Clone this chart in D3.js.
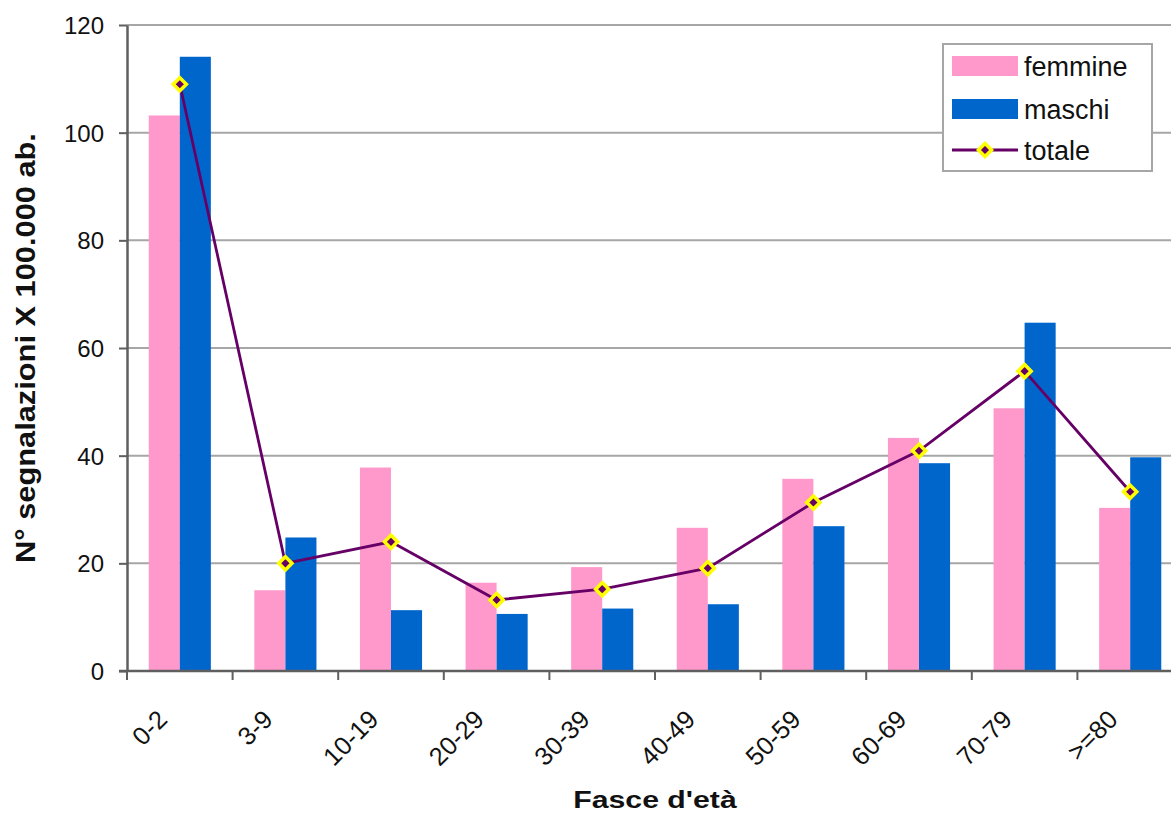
<!DOCTYPE html>
<html>
<head>
<meta charset="utf-8">
<script src="https://cdn.jsdelivr.net/npm/d3@7"></script>
<style>
  html, body { margin: 0; padding: 0; background: #fff; }
  svg { display: block; font-family: Arial, "Liberation Sans", sans-serif; }
</style>
</head>
<body>
<svg id="chart" width="1171" height="814"></svg>
<script>
// Age bands
const categories = ["0-2", "3-9", "10-19", "20-29", "30-39", "40-49", "50-59", "60-69", "70-79", ">=80"];
// Reports per 100,000 inhabitants
const femmine = [103.2, 15.0, 37.8, 16.4, 19.3, 26.6, 35.7, 43.3, 48.8, 30.3];
const maschi  = [114.1, 24.8, 11.3, 10.6, 11.6, 12.4, 26.9, 38.6, 64.7, 39.7];
const totale  = [109.0, 20.0, 24.0, 13.2, 15.2, 19.1, 31.3, 40.9, 55.7, 33.3];
const yTicks = [0, 20, 40, 60, 80, 100, 120];
const seriesNames = ["femmine", "maschi"];

const colors = { femmine: "#FF99CC", maschi: "#0066CC", line: "#660066", marker: "#FFFF00" };

const svg = d3.select("#chart");
const plot = { left: 127, right: 1183, top: 25, bottom: 671 };

const x = d3.scaleBand().domain(categories).range([plot.left, plot.right]).paddingInner(0).paddingOuter(0);
const xs = d3.scaleBand().domain(seriesNames).range([0, x.bandwidth()]).paddingInner(0).paddingOuter(0.7);
const y = d3.scaleLinear().domain([0, 120]).range([plot.bottom, plot.top]);

// horizontal gridlines
svg.append("g")
  .selectAll("line")
  .data(yTicks.filter(d => d > 0))
  .join("line")
  .attr("x1", plot.left).attr("x2", plot.right)
  .attr("y1", d => y(d)).attr("y2", d => y(d))
  .attr("stroke", "#a6a6a6").attr("stroke-width", 2);

// bars
const dataRows = categories.map((c, i) => ({ cat: c, femmine: femmine[i], maschi: maschi[i], totale: totale[i] }));
const groups = svg.append("g").selectAll("g")
  .data(dataRows)
  .join("g")
  .attr("transform", d => `translate(${x(d.cat)},0)`);
groups.selectAll("rect")
  .data(d => seriesNames.map(s => ({ s, v: d[s] })))
  .join("rect")
  .attr("x", d => xs(d.s))
  .attr("width", xs.bandwidth())
  .attr("y", d => y(d.v))
  .attr("height", d => y(0) - y(d.v))
  .attr("fill", d => colors[d.s]);

// axes
const axisColor = "#5f5f5f";
const yAxis = svg.append("g")
  .attr("transform", `translate(${plot.left},0)`)
  .call(d3.axisLeft(y).tickValues(yTicks).tickSize(8).tickPadding(15).tickSizeOuter(0));
yAxis.select(".domain").attr("stroke", axisColor).attr("stroke-width", 2.5);
yAxis.selectAll(".tick line").attr("stroke", axisColor).attr("stroke-width", 2);
yAxis.selectAll(".tick text").attr("font-size", 24).attr("fill", "#111").attr("dy", "0.36em");

const xAxisG = svg.append("g").attr("transform", `translate(0,${plot.bottom})`);
xAxisG.append("line")
  .attr("x1", plot.left - 8).attr("x2", plot.right)
  .attr("stroke", axisColor).attr("stroke-width", 2.5);
xAxisG.selectAll("line.tk")
  .data(categories.concat(["end"]))
  .join("line").attr("class", "tk")
  .attr("x1", (d, i) => plot.left + i * x.step())
  .attr("x2", (d, i) => plot.left + i * x.step())
  .attr("y1", 0).attr("y2", 9)
  .attr("stroke", axisColor).attr("stroke-width", 2);
xAxisG.selectAll("text")
  .data(categories)
  .join("text")
  .attr("transform", d => `translate(${x(d) + x.bandwidth() / 2 - 11},${50}) rotate(-45)`)
  .attr("text-anchor", "end")
  .attr("font-size", 25.5)
  .attr("fill", "#111")
  .text(d => d);

// total line with diamond markers
const line = d3.line()
  .x(d => x(d.cat) + x.bandwidth() / 2)
  .y(d => y(d.totale));
svg.append("path")
  .datum(dataRows)
  .attr("d", line)
  .attr("fill", "none")
  .attr("stroke", colors.line)
  .attr("stroke-width", 2.8);
const diamond = d3.symbol().type(d3.symbolDiamond2).size(110);
svg.append("g").selectAll("path")
  .data(dataRows)
  .join("path")
  .attr("d", diamond)
  .attr("transform", d => `translate(${x(d.cat) + x.bandwidth() / 2},${y(d.totale)})`)
  .attr("fill", colors.line)
  .attr("stroke", colors.marker)
  .attr("stroke-width", 3.5);

// axis titles
svg.append("text")
  .attr("transform", `translate(35,${(plot.top + plot.bottom) / 2}) rotate(-90) scale(1.1,1)`)
  .attr("text-anchor", "middle")
  .attr("font-size", 28).attr("font-weight", "bold").attr("fill", "#111")
  .text("N° segnalazioni X 100.000 ab.");
svg.append("text")
  .attr("transform", `translate(${(plot.left + plot.right) / 2},808) scale(1.26,1)`)
  .attr("text-anchor", "middle")
  .attr("font-size", 24).attr("font-weight", "bold").attr("fill", "#111")
  .text("Fasce d'età");

// legend
const legend = svg.append("g").attr("transform", "translate(943,44)");
legend.append("rect")
  .attr("width", 209).attr("height", 127)
  .attr("fill", "#fff").attr("stroke", "#a6a6a6").attr("stroke-width", 2);
const legendItems = [
  { name: "femmine", kind: "bar", cy: 22 },
  { name: "maschi", kind: "bar", cy: 65 },
  { name: "totale", kind: "line", cy: 106 }
];
const li = legend.selectAll("g.item")
  .data(legendItems)
  .join("g").attr("class", "item")
  .attr("transform", d => `translate(9,${d.cy})`);
li.filter(d => d.kind === "bar").append("rect")
  .attr("x", 0).attr("y", -10).attr("width", 66).attr("height", 20)
  .attr("fill", d => colors[d.name]);
li.filter(d => d.kind === "line").append("line")
  .attr("x1", 0).attr("x2", 66)
  .attr("stroke", colors.line).attr("stroke-width", 2.8);
li.filter(d => d.kind === "line").append("path")
  .attr("d", diamond)
  .attr("transform", "translate(33,0)")
  .attr("fill", colors.line).attr("stroke", colors.marker).attr("stroke-width", 3.5);
li.append("text")
  .attr("x", 72).attr("dy", "0.36em")
  .attr("font-size", 27).attr("fill", "#111")
  .text(d => d.name);
</script>
</body>
</html>
